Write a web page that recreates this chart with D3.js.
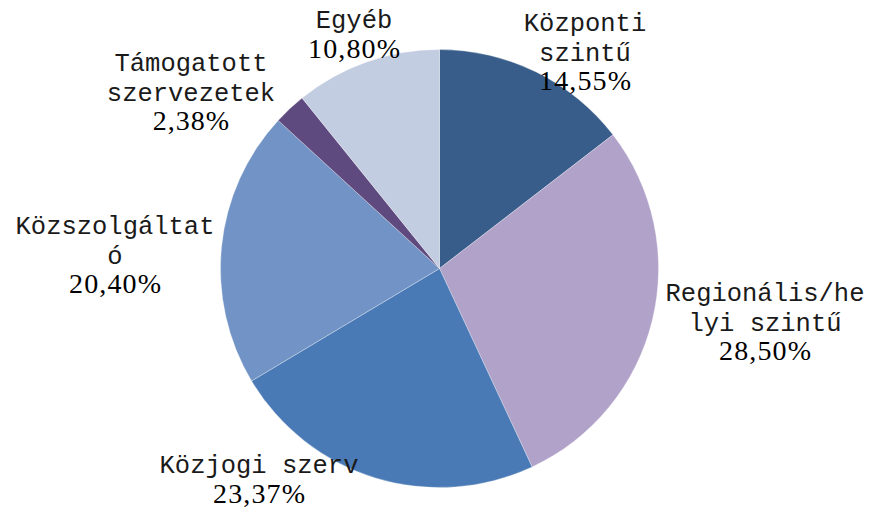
<!DOCTYPE html>
<html><head><meta charset="utf-8">
<script src="https://cdn.jsdelivr.net/npm/d3@7"></script>
<style>html,body{margin:0;padding:0;background:#fff;}svg{display:block;}</style>
</head><body>
<svg id="chart" width="872" height="510"></svg>
<script>
// Data
const categories = ["Központi szintű", "Regionális/helyi szintű", "Közjogi szerv", "Közszolgáltató", "Támogatott szervezetek", "Egyéb"];
const values = [14.55, 28.50, 23.37, 20.40, 2.38, 10.80];
const valueLabels = ["14,55%", "28,50%", "23,37%", "20,40%", "2,38%", "10,80%"];
// Wrapped label lines as shown in the chart
const labelLines = [
  ["Központi", "szintű"],
  ["Regionális/he", "lyi szintű"],
  ["Közjogi szerv"],
  ["Közszolgáltat", "ó"],
  ["Támogatott", "szervezetek"],
  ["Egyéb"]
];

// Styles / layout (kept separate from data)
const colors = ["#385d8a", "#b1a2c9", "#4a7ab5", "#7193c5", "#5f4a7f", "#c3cde2"];
const labelLayout = [ // center x, first baseline
  {x: 585, y: 31},
  {x: 765, y: 301},
  {x: 259, y: 473},
  {x: 115, y: 234},
  {x: 191, y: 71},
  {x: 354, y: 28}
];
const lineH = 29.5;
const cell = 15.6;

const svg = d3.select("#chart");
const cx = 439.5, cy = 268.5, R = 219;

const pie = d3.pie().sort(null).startAngle(0).endAngle(2 * Math.PI).value(d => d);
const arc = d3.arc().innerRadius(0).outerRadius(R);

svg.append("g").attr("transform", `translate(${cx},${cy})`)
  .selectAll("path").data(pie(values)).join("path")
  .attr("d", arc)
  .attr("fill", (d, i) => colors[i])
  .attr("stroke", "#ffffff")
  .attr("stroke-opacity", 0.5)
  .attr("stroke-width", 0.6);

const lg = svg.append("g");
categories.forEach((c, i) => {
  const L = labelLayout[i];
  const lines = labelLines[i];
  lines.forEach((ln, j) => {
    lg.append("text")
      .attr("x", L.x).attr("y", L.y + j * lineH)
      .attr("text-anchor", "middle")
      .attr("font-family", "Liberation Mono")
      .attr("font-size", 25.5)
      .attr("fill", "#1a1a1a")
      .text(ln);
  });
  const s = valueLabels[i];
  lg.append("text")
    .attr("x", L.x).attr("y", L.y + lines.length * lineH)
    .attr("text-anchor", "middle")
    .attr("font-family", "'Times New Roman', 'Liberation Serif', 'DejaVu Serif', serif")
    .attr("font-size", 28)
    .attr("textLength", (s.length - 1) * cell + 14)
    .attr("lengthAdjust", "spacing")
    .attr("fill", "#000")
    .text(s);
});
</script>
</body></html>
